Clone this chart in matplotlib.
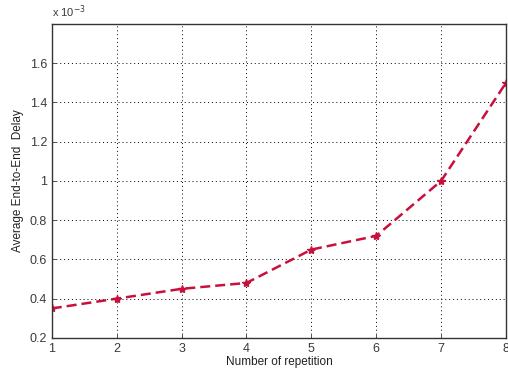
import matplotlib
matplotlib.use('Agg')
import matplotlib.pyplot as plt
from matplotlib.ticker import FuncFormatter

# data
repetitions = [1, 2, 3, 4, 5, 6, 7, 8]
delay = [0.35e-3, 0.40e-3, 0.45e-3, 0.48e-3, 0.65e-3, 0.72e-3, 1.0e-3, 1.5e-3]
y_ticks = [0.2e-3, 0.4e-3, 0.6e-3, 0.8e-3, 1.0e-3, 1.2e-3, 1.4e-3, 1.6e-3]

plt.rcParams['font.family'] = ['Liberation Sans', 'DejaVu Sans']
plt.rcParams['font.size'] = 8

fig = plt.figure(figsize=(5.08, 3.75), dpi=100)
ax = fig.add_axes([0.102, 0.099, 0.894, 0.837])

ax.plot(repetitions, delay, color='#c8103c', linestyle='--', linewidth=1.8,
        dashes=(4, 2), marker='*', markersize=6, markeredgewidth=1.0)

ax.set_xlim(1, 8)
ax.set_ylim(0.2e-3, 1.8e-3)
ax.set_xticks(repetitions)
ax.set_yticks(y_ticks)
ax.yaxis.set_major_formatter(FuncFormatter(lambda v, p: '%g' % round(v * 1e3, 3)))
ax.tick_params(direction='in', length=3, width=0.6, labelsize=9, colors='#3a3a3a')
for s in ax.spines.values():
    s.set_linewidth(1.0)
    s.set_color('#333333')

ax.grid(True, linestyle=(0, (1, 3)), color='black', linewidth=0.7)

ax.text(0.0, 1.012, 'x 10$^{-3}$', transform=ax.transAxes, fontsize=8,
        ha='left', va='bottom', color='#3a3a3a')

ax.set_xlabel('Number of repetition', fontsize=8.5, labelpad=1, color='#222222')
ax.set_ylabel('Average End-to-End  Delay', fontsize=8.5, labelpad=4, color='#222222')

fig.savefig('out.png', dpi=100)
